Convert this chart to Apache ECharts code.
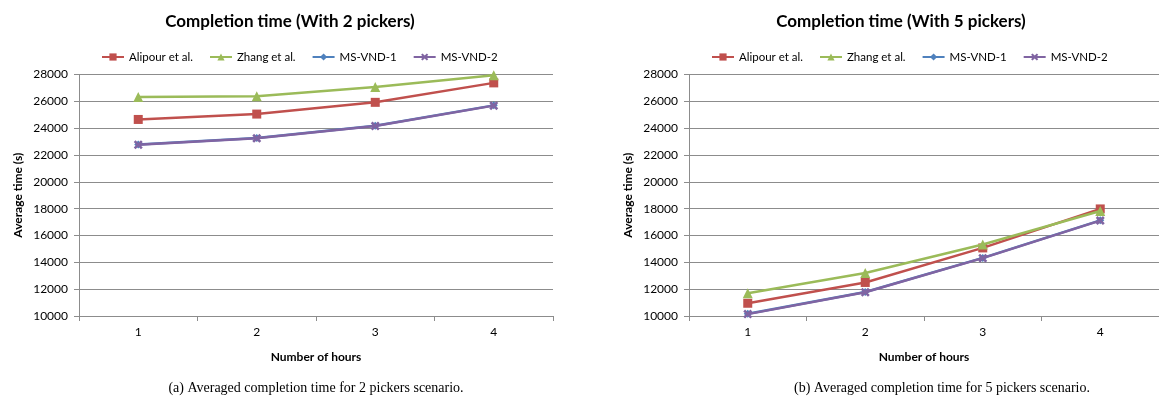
<!DOCTYPE html>
<html>
<head>
<meta charset="utf-8">
<script src="https://cdn.jsdelivr.net/npm/echarts@6/dist/echarts.min.js"></script>
<style>
  html, body { margin: 0; padding: 0; background: #fff; }
  #chart { width: 1159px; height: 403px; }
</style>
</head>
<body>
<div id="chart"></div>
<script>
// data
var hours = ['1', '2', '3', '4'];
var yTicks = [10000, 28000, 2000]; // min, max, step

var alipour2 = [24650, 25050, 25925, 27375];
var zhang2   = [26325, 26375, 27075, 27950];
var vnd1_2   = [22780, 23260, 24180, 25700];
var vnd2_2   = [22760, 23240, 24160, 25680];

var alipour5 = [10950, 12500, 15075, 17980];
var zhang5   = [11700, 13200, 15325, 17825];
var vnd1_5   = [10160, 11790, 14330, 17130];
var vnd2_5   = [10140, 11770, 14310, 17110];

var names = ['Alipour et al.', 'Zhang et al.', 'MS-VND-1', 'MS-VND-2'];
var colors = ['#C0504D', '#9BBB59', '#4F81BD', '#8064A2'];
var xMark = 'path://M2,0 L5,3 L8,0 L10,2 L7,5 L10,8 L8,10 L5,7 L2,10 L0,8 L3,5 L0,2 Z';
var symbols = ['rect', 'triangle', 'diamond', xMark];
var symSizes = [9, 10, 8, 9];

var font = 'Lato, "Open Sans", sans-serif';
var gridColor = '#8C8C8C';

function xAxisFor(i){
    return {
        type: 'category', gridIndex: i, data: hours, boundaryGap: true,
        name: 'Number of hours', nameLocation: 'middle', nameGap: 35,
        nameTextStyle: { fontFamily: font, fontWeight: 'bold', fontSize: 12, color: '#000' },
        axisLine: { lineStyle: { color: gridColor, width: 1 } },
        axisTick: { show: true, length: 5, interval: 0, lineStyle: { color: gridColor } },
        axisLabel: { fontFamily: font, fontSize: 12, color: '#000', margin: 10 }
    };
}
function yAxisFor(i){
    return {
        type: 'value', gridIndex: i, min: yTicks[0], max: yTicks[1], interval: yTicks[2],
        name: 'Average time (s)', nameLocation: 'middle', nameGap: 55,
        nameTextStyle: { fontFamily: font, fontWeight: 'bold', fontSize: 12, color: '#000' },
        axisLine: { show: true, lineStyle: { color: gridColor, width: 1 } },
        axisTick: { show: true, length: 5, lineStyle: { color: gridColor } },
        axisLabel: { fontFamily: font, fontSize: 12, color: '#000', margin: 11,
                     formatter: function(v){ return String(v); } },
        splitLine: { show: true, lineStyle: { color: gridColor, width: 1 } }
    };
}
function seriesFor(i, sets){
    return sets.map(function(vals, k){
        return {
            name: names[k], type: 'line', xAxisIndex: i, yAxisIndex: i,
            data: vals, symbol: symbols[k], symbolSize: symSizes[k],
            showAllSymbol: true,
            itemStyle: { color: colors[k] },
            lineStyle: { color: colors[k], width: 2.5 },
            z: 2 + k
        };
    });
}
function legendFor(left){
    return {
        left: left, top: 46, itemWidth: 22, itemHeight: 9, itemGap: 16,
        data: names, textStyle: { fontFamily: font, fontSize: 11.5, color: '#000' }
    };
}

var chart = echarts.init(document.getElementById('chart'));
chart.setOption({
    backgroundColor: '#fff',
    animation: false,
    title: [
        { text: 'Completion time (With 2 pickers)', left: 285, top: 8, textAlign: 'center',
          textStyle: { fontFamily: font, fontWeight: 'bold', fontSize: 17, color: '#000' } },
        { text: 'Completion time (With 5 pickers)', left: 896, top: 8, textAlign: 'center',
          textStyle: { fontFamily: font, fontWeight: 'bold', fontSize: 17, color: '#000' } }
    ],
    legend: [legendFor(96), legendFor(706)],
    grid: [
        { left: 79, top: 74.5, width: 474, height: 241.5 },
        { left: 689, top: 74.5, width: 474, height: 241.5 }
    ],
    xAxis: [xAxisFor(0), xAxisFor(1)],
    yAxis: [yAxisFor(0), yAxisFor(1)],
    series: seriesFor(0, [alipour2, zhang2, vnd1_2, vnd2_2])
        .concat(seriesFor(1, [alipour5, zhang5, vnd1_5, vnd2_5])),
    graphic: [
        { type: 'text', x: 316, y: 388, style: { text: '(a) Averaged completion time for 2 pickers scenario.',
          fontFamily: '"Liberation Serif", "DejaVu Serif", serif', fontSize: 14, fill: '#000',
          align: 'center', verticalAlign: 'middle' } },
        { type: 'text', x: 942, y: 388, style: { text: '(b) Averaged completion time for 5 pickers scenario.',
          fontFamily: '"Liberation Serif", "DejaVu Serif", serif', fontSize: 14, fill: '#000',
          align: 'center', verticalAlign: 'middle' } }
    ]
});
</script>
</body>
</html>
